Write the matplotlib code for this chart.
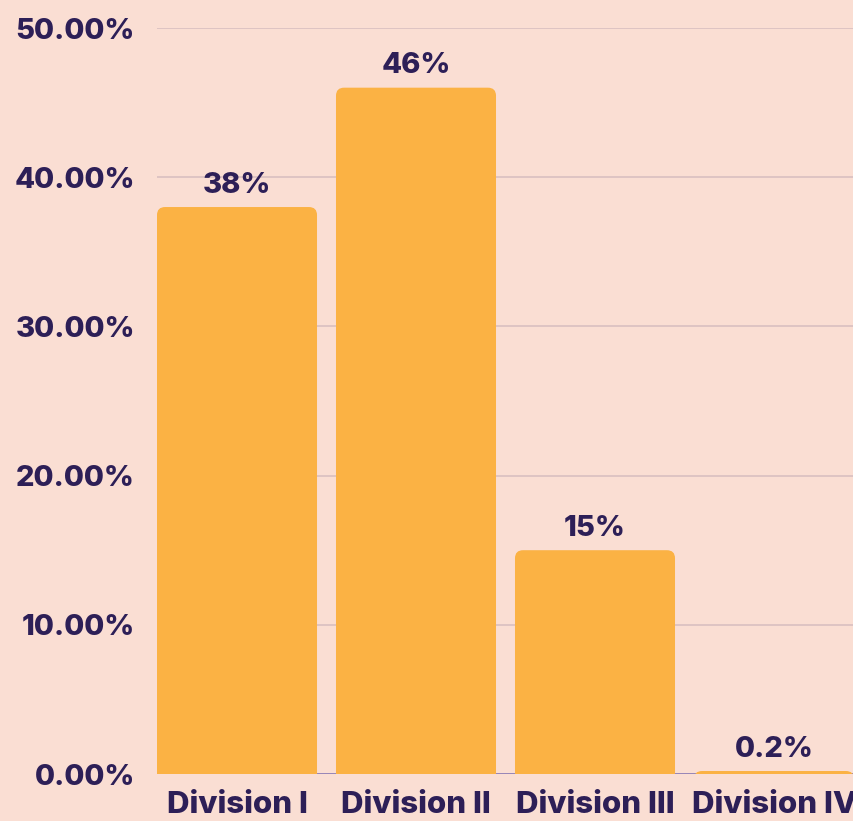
import matplotlib.pyplot as plt
from matplotlib.patches import FancyBboxPatch

plt.rcParams['font.family'] = ['Inter', 'DejaVu Sans']

divisions = ['Division I', 'Division II', 'Division III', 'Division IV']
shares = [38, 46, 15, 0.2]
bar_labels = ['38%', '46%', '15%', '0.2%']
yticks = [0, 10, 20, 30, 40, 50]
ytick_labels = ['0.00%', '10.00%', '20.00%', '30.00%', '40.00%', '50.00%']

bg = '#FADED3'
bar_color = '#FBB244'
text_color = '#2D1F57'

fig = plt.figure(figsize=(8.54, 8.21), dpi=100, facecolor=bg)
ax = fig.add_axes([157 / 854, 47 / 821, 697 / 854, 746 / 821])
ax.set_facecolor(bg)

bars = ax.bar(range(len(shares)), shares, width=0.894, color=bar_color)
ax.set_xlim(-0.447, 3.447)
ax.set_ylim(0, 50)

# rounded top corners: swap each bar for a rounded box that starts below 0
for b in bars:
    b.set_visible(False)
    x, w, h = b.get_x(), b.get_width(), b.get_height()
    patch = FancyBboxPatch((x, -1.0), w, h + 1.0,
                           boxstyle='round,pad=0,rounding_size=0.045',
                           mutation_aspect=12.0,
                           facecolor=bar_color, edgecolor='none', zorder=2)
    ax.add_patch(patch)

for i, (v, lab) in enumerate(zip(shares, bar_labels)):
    ax.annotate(lab, (i, v), xytext=(0, 6), textcoords='offset points',
                ha='center', va='bottom', fontsize=21, fontweight='heavy',
                color=text_color)

ax.set_yticks(yticks)
ax.set_yticklabels(ytick_labels)
ax.set_xticks(range(len(divisions)))
ax.set_xticklabels(divisions)
ax.tick_params(axis='y', length=0, pad=16, labelsize=21, labelcolor=text_color)
ax.tick_params(axis='x', length=0, pad=12, labelsize=22.5, labelcolor=text_color)
for lab in ax.get_xticklabels() + ax.get_yticklabels():
    lab.set_fontweight('heavy')

ax.grid(axis='y', color='#D9BFC0', linewidth=1.2, zorder=0)
ax.set_axisbelow(True)
for s in ax.spines.values():
    s.set_visible(False)
ax.axhline(0, color='#8C7BB5', linewidth=1.2, zorder=1)

fig.savefig('out.png', dpi=100, facecolor=bg)
